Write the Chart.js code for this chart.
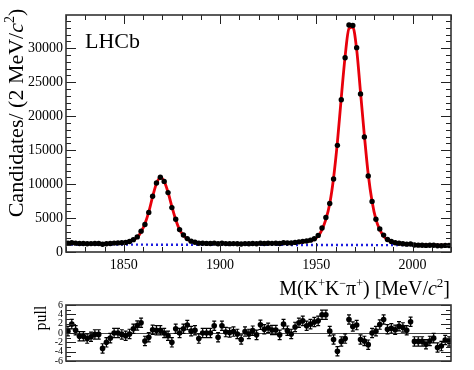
<!DOCTYPE html>
<html>
<head>
<meta charset="utf-8">
<script src="https://cdn.jsdelivr.net/npm/chart.js@4/dist/chart.umd.min.js"></script>
<style>
  html, body { margin: 0; padding: 0; background: #fff; }
  #wrap { position: relative; width: 474px; height: 370px; }
  #main { position: absolute; left: 0; top: 0; }
  #pull { position: absolute; left: 0; top: 296px; }
</style>
</head>
<body>
<div id="wrap">
  <canvas id="main" width="474" height="300"></canvas>
  <canvas id="pull" width="474" height="74"></canvas>
</div>
<script>
// bin centres, 2 MeV bins from 1820 to 2020
const massBins = [
  1821, 1823, 1825, 1827, 1829, 1831, 1833, 1835, 1837, 1839,
  1841, 1843, 1845, 1847, 1849, 1851, 1853, 1855, 1857, 1859,
  1861, 1863, 1865, 1867, 1869, 1871, 1873, 1875, 1877, 1879,
  1881, 1883, 1885, 1887, 1889, 1891, 1893, 1895, 1897, 1899,
  1901, 1903, 1905, 1907, 1909, 1911, 1913, 1915, 1917, 1919,
  1921, 1923, 1925, 1927, 1929, 1931, 1933, 1935, 1937, 1939,
  1941, 1943, 1945, 1947, 1949, 1951, 1953, 1955, 1957, 1959,
  1961, 1963, 1965, 1967, 1969, 1971, 1973, 1975, 1977, 1979,
  1981, 1983, 1985, 1987, 1989, 1991, 1993, 1995, 1997, 1999,
  2001, 2003, 2005, 2007, 2009, 2011, 2013, 2015, 2017, 2019
];

// candidates per bin (data points)
const counts = [
  1300, 1353, 1301, 1250, 1245, 1222, 1234, 1249, 1251, 1151,
  1207, 1253, 1312, 1340, 1369, 1417, 1552, 1818, 2224, 3069,
  4040, 5831, 8213, 10160, 11013, 10400, 8744, 6536, 4812, 3300,
  2495, 1974, 1596, 1443, 1296, 1295, 1270, 1255, 1300, 1208,
  1290, 1239, 1233, 1239, 1219, 1176, 1235, 1217, 1243, 1213,
  1291, 1262, 1279, 1271, 1281, 1256, 1354, 1324, 1325, 1414,
  1493, 1570, 1611, 1748, 1961, 2445, 3524, 5070, 7134, 10754,
  15704, 22429, 28596, 33426, 33355, 30093, 23285, 16927, 11183, 7450,
  4828, 3403, 2491, 1834, 1539, 1355, 1286, 1216, 1157, 1185,
  1026, 1011, 999, 969, 986, 998, 927, 931, 970, 959
];

// total fit model at the bin centres
const fitCounts = [
  1290, 1285, 1280, 1275, 1270, 1265, 1262, 1260, 1262, 1268,
  1278, 1292, 1312, 1340, 1380, 1440, 1560, 1780, 2150, 2950,
  4150, 5900, 8150, 10100, 10950, 10400, 8800, 6700, 4750, 3300,
  2450, 1900, 1580, 1420, 1340, 1295, 1270, 1255, 1245, 1240,
  1235, 1232, 1230, 1228, 1226, 1225, 1224, 1224, 1225, 1227,
  1230, 1234, 1240, 1248, 1258, 1270, 1286, 1306, 1332, 1366,
  1410, 1470, 1550, 1670, 1860, 2320, 3300, 4800, 7100, 10900,
  16200, 22700, 28800, 32900, 33100, 29800, 23500, 17150, 11450, 7450,
  4800, 3300, 2350, 1800, 1500, 1330, 1235, 1175, 1135, 1105,
  1085, 1070, 1058, 1048, 1040, 1033, 1027, 1022, 1018, 1015
];

// combinatorial background (straight line)
const bkgMass = [1820, 2020];
const bkgCounts = [1100, 1000];

// pulls per bin, each with a +-1 error bar
const pulls = [
  0.4, 1.9, 0.6, -0.7, -0.7, -1.2, -0.8, -0.3, -0.3, -3.3,
  -2.0, -1.1, 0.0, 0.0, -0.3, -0.6, -0.2, 0.9, 1.6, 2.2,
  -1.7, -0.9, 0.7, 0.6, 0.6, 0.0, -0.6, -2.0, 0.9, 0.0,
  0.9, 1.7, 0.4, 0.6, -1.2, 0.0, 0.0, 0.0, 1.55, -0.9,
  1.55, 0.2, 0.1, 0.3, -0.2, -1.4, 0.3, -0.2, 0.5, -0.4,
  1.75, 0.8, 1.1, 0.65, 0.65, -0.4, 1.9, 0.5, -0.2, 1.3,
  2.2, 2.6, 1.55, 1.9, 2.35, 2.6, 3.9, 3.9, 0.4, -1.4,
  -3.9, -1.8, -1.2, 2.9, 1.4, 1.7, -1.4, -1.7, -2.5, 0.0,
  0.4, 1.8, 2.9, 0.8, 1.0, 0.7, 1.45, 1.2, 0.6, 2.4,
  -1.8, -1.8, -1.8, -2.4, -1.7, -1.1, -3.1, -2.8, -1.5, -1.8
];
const pullErr = 1;

// tick labels
const massTicks = [1850, 1900, 1950, 2000];
const countTicks = [0, 5000, 10000, 15000, 20000, 25000, 30000];
const pullTicks = [-6, -4, -2, 0, 2, 4, 6];

const massMin = 1820, massMax = 2020;
const serif = "'Liberation Serif', 'Times New Roman', serif";

Chart.defaults.font.family = serif;
Chart.defaults.color = '#000';

const pts = (xs, ys) => xs.map((x, i) => ({ x: x, y: ys[i] }));
const fixTicks = vals => s => { s.ticks = vals.map(v => ({ value: v })); };

// draw a line of text made of runs (superscripts, italics)
function drawRuns(ctx, runs, x, y, align) {
  let w = 0;
  runs.forEach(r => { ctx.font = r.font; w += ctx.measureText(r.t).width; });
  let cx = align === 'right' ? x - w : (align === 'center' ? x - w / 2 : x);
  ctx.textAlign = 'left';
  ctx.textBaseline = 'alphabetic';
  runs.forEach(r => {
    ctx.font = r.font;
    ctx.fillText(r.t, cx, y + (r.dy || 0));
    cx += ctx.measureText(r.t).width;
  });
}

// ROOT-like frame with inward ticks on all four sides
function drawFrame(chart, xStep, xMajor, yMin, yMax, yStep, yMajor, xTicks) {
  const ctx = chart.ctx, a = chart.chartArea;
  const xs = chart.scales.x, ys = chart.scales.y;
  ctx.save();
  ctx.strokeStyle = '#222';
  ctx.lineWidth = 1;
  ctx.beginPath();
  if (xTicks) {
    for (let v = massMin; v <= massMax + 0.001; v += xStep) {
      const px = Math.round(xs.getPixelForValue(v)) + 0.5;
      const len = (Math.abs(v % xMajor) < 0.001) ? 9 : 5;
      ctx.moveTo(px, a.bottom); ctx.lineTo(px, a.bottom - len);
      ctx.moveTo(px, a.top); ctx.lineTo(px, a.top + len);
    }
  }
  for (let v = yMin; v <= yMax + 0.001; v += yStep) {
    const py = Math.round(ys.getPixelForValue(v)) + 0.5;
    const len = (Math.abs(v % yMajor) < 0.001) ? 10 : 5;
    ctx.moveTo(a.left, py); ctx.lineTo(a.left + len, py);
    ctx.moveTo(a.right, py); ctx.lineTo(a.right - len, py);
  }
  ctx.stroke();
  ctx.lineWidth = 1.6;
  ctx.strokeStyle = '#333';
  ctx.strokeRect(a.left, a.top, a.right - a.left, a.bottom - a.top);
  ctx.restore();
}

const mainDecor = {
  id: 'mainDecor',
  afterDatasetsDraw(chart) {
    drawFrame(chart, 10, 50, 0, 34000, 1000, 5000, true);
  },
  afterDraw(chart) {
    const ctx = chart.ctx;
    ctx.save();
    ctx.fillStyle = '#000';
    drawRuns(ctx, [{ t: 'LHCb', font: '22px ' + serif }], 85, 48, 'left');
    drawRuns(ctx, [
      { t: 'M(K', font: '20px ' + serif },
      { t: '+', font: '12px ' + serif, dy: -8 },
      { t: 'K', font: '20px ' + serif },
      { t: '\u2212', font: '12px ' + serif, dy: -8 },
      { t: '\u03c0', font: '20px ' + serif },
      { t: '+', font: '12px ' + serif, dy: -8 },
      { t: ') [MeV/', font: '20px ' + serif },
      { t: 'c', font: 'italic 20px ' + serif },
      { t: '2', font: '13px ' + serif, dy: -8 },
      { t: ']', font: '20px ' + serif }
    ], 450, 295, 'right');
    ctx.translate(23, 113);
    ctx.rotate(-Math.PI / 2);
    drawRuns(ctx, [
      { t: 'Candidates/ (2 MeV/', font: '22px ' + serif },
      { t: 'c', font: 'italic 22px ' + serif },
      { t: '2', font: '14px ' + serif, dy: -9 },
      { t: ')', font: '22px ' + serif }
    ], 0, 0, 'center');
    ctx.restore();
  }
};

const pullDecor = {
  id: 'pullDecor',
  beforeDatasetsDraw(chart) {
    const ctx = chart.ctx, a = chart.chartArea;
    const xs = chart.scales.x, ys = chart.scales.y;
    ctx.save();
    // zero line
    ctx.strokeStyle = '#444';
    ctx.lineWidth = 1;
    const y0 = Math.round(ys.getPixelForValue(0)) + 0.5;
    ctx.beginPath(); ctx.moveTo(a.left, y0); ctx.lineTo(a.right, y0); ctx.stroke();
    // error bars
    ctx.strokeStyle = '#000';
    ctx.lineWidth = 1.2;
    ctx.beginPath();
    massBins.forEach((m, i) => {
      const px = xs.getPixelForValue(m);
      const lo = ys.getPixelForValue(pulls[i] - pullErr);
      const hi = ys.getPixelForValue(pulls[i] + pullErr);
      ctx.moveTo(px, lo); ctx.lineTo(px, hi);
      ctx.moveTo(px - 2, lo); ctx.lineTo(px + 2, lo);
      ctx.moveTo(px - 2, hi); ctx.lineTo(px + 2, hi);
    });
    ctx.stroke();
    ctx.restore();
  },
  afterDatasetsDraw(chart) {
    drawFrame(chart, 10, 50, -6, 6, 1, 2, false);
  },
  afterDraw(chart) {
    const ctx = chart.ctx;
    ctx.save();
    ctx.fillStyle = '#000';
    ctx.translate(46, 22);
    ctx.rotate(-Math.PI / 2);
    drawRuns(ctx, [{ t: 'pull', font: '16px ' + serif }], 0, 0, 'center');
    ctx.restore();
  }
};

new Chart(document.getElementById('main'), {
  type: 'scatter',
  data: {
    datasets: [
      {
        label: 'data',
        data: pts(massBins, counts),
        pointRadius: 2.7,
        pointBackgroundColor: '#000',
        pointBorderColor: '#000',
        pointBorderWidth: 0,
        showLine: false,
        order: 0
      },
      {
        label: 'fit',
        data: pts(massBins, fitCounts),
        showLine: true,
        borderColor: '#e8000b',
        borderWidth: 2.8,
        pointRadius: 0,
        cubicInterpolationMode: 'monotone',
        order: 1
      },
      {
        label: 'background',
        data: pts(bkgMass, bkgCounts),
        showLine: true,
        borderColor: '#1f1fe0',
        borderWidth: 2.4,
        borderDash: [2, 3],
        pointRadius: 0,
        order: 2
      }
    ]
  },
  options: {
    responsive: false,
    animation: false,
    devicePixelRatio: 1,
    layout: { padding: { left: 0, top: 15, right: 23, bottom: 0 } },
    plugins: { legend: { display: false }, tooltip: { enabled: false } },
    scales: {
      x: {
        type: 'linear',
        min: massMin,
        max: massMax,
        grid: { display: false, drawTicks: false },
        border: { display: false },
        afterBuildTicks: fixTicks(massTicks),
        ticks: { autoSkip: false, padding: 5, maxRotation: 0,
                 callback: v => String(v), font: { size: 14 }, color: '#000' },
        afterFit: s => { s.height = 48; }
      },
      y: {
        min: 0,
        max: 34900,
        grid: { display: false, drawTicks: false },
        border: { display: false },
        afterBuildTicks: fixTicks(countTicks),
        ticks: { autoSkip: false, padding: 3, callback: v => String(v),
                 font: { size: 14 }, color: '#000' },
        afterFit: s => { s.width = 66; }
      }
    }
  },
  plugins: [mainDecor]
});

new Chart(document.getElementById('pull'), {
  type: 'scatter',
  data: {
    datasets: [{
      label: 'pull',
      data: pts(massBins, pulls),
      pointRadius: 2.8,
      pointBackgroundColor: '#000',
      pointBorderColor: '#000',
      pointBorderWidth: 0
    }]
  },
  options: {
    responsive: false,
    animation: false,
    devicePixelRatio: 1,
    layout: { padding: { left: 0, top: 8, right: 23, bottom: 4 } },
    plugins: { legend: { display: false }, tooltip: { enabled: false } },
    scales: {
      x: {
        type: 'linear',
        min: massMin,
        max: massMax,
        display: false
      },
      y: {
        min: -6,
        max: 6,
        grid: { display: false, drawTicks: false },
        border: { display: false },
        afterBuildTicks: fixTicks(pullTicks),
        ticks: { autoSkip: false, padding: 3, callback: v => String(v),
                 font: { size: 10 }, color: '#000' },
        afterFit: s => { s.width = 66; }
      }
    }
  },
  plugins: [pullDecor]
});
</script>
</body>
</html>
